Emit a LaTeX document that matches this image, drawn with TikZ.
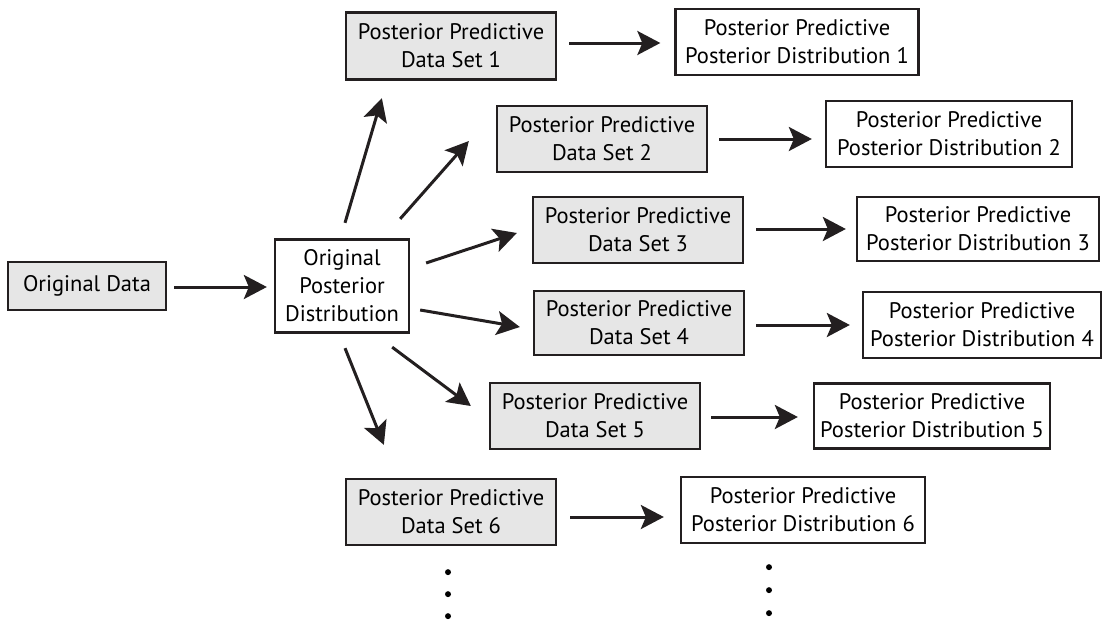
\documentclass[tikz,border=0pt]{standalone}
\usepackage{fontspec}
\setmainfont{PT Sans}
\usetikzlibrary{arrows.meta,calc}
\definecolor{ink}{HTML}{231F20}
\definecolor{boxgray}{HTML}{E6E6E6}
\tikzset{
  base/.style={draw=ink, line width=2.3pt, align=center, inner sep=0pt, text=black,
    font=\fontsize{22.5}{28}\selectfont},
  grayb/.style={base, fill=boxgray},
  whiteb/.style={base, fill=white},
  arr/.style={draw=ink, line width=3pt, -{Stealth[length=23pt, width=24pt, inset=5pt]}},
  dotc/.style={fill=black, draw=none}
}
\begin{document}
\begin{tikzpicture}[x=1pt,y=-1pt]
\useasboundingbox (0,0) rectangle (1103,621);
% nodes
\node[grayb, minimum width=158pt, minimum height=48pt] (od) at (87,286) {Original Data};
\node[whiteb, minimum width=134pt, minimum height=93pt] (opd) at (342,286) {Original\\Posterior\\Distribution};
\node[grayb, minimum width=210pt, minimum height=67pt] (ds1) at (451,46) {Posterior Predictive\\Data Set 1};
\node[whiteb, minimum width=243pt, minimum height=66pt] (ppd1) at (797,42) {Posterior Predictive\\Posterior Distribution 1};
\node[grayb, minimum width=210pt, minimum height=66pt] (ds2) at (602,139) {Posterior Predictive\\Data Set 2};
\node[whiteb, minimum width=246pt, minimum height=66pt] (ppd2) at (949,134) {Posterior Predictive\\Posterior Distribution 2};
\node[grayb, minimum width=210pt, minimum height=66pt] (ds3) at (638,230) {Posterior Predictive\\Data Set 3};
\node[whiteb, minimum width=242pt, minimum height=64pt] (ppd3) at (978,229) {Posterior Predictive\\Posterior Distribution 3};
\node[grayb, minimum width=210pt, minimum height=64pt] (ds4) at (639,323) {Posterior Predictive\\Data Set 4};
\node[whiteb, minimum width=238pt, minimum height=66pt] (ppd4) at (982,325) {Posterior Predictive\\Posterior Distribution 4};
\node[grayb, minimum width=210pt, minimum height=66pt] (ds5) at (595,416) {Posterior Predictive\\Data Set 5};
\node[whiteb, minimum width=236pt, minimum height=65pt] (ppd5) at (932,416) {Posterior Predictive\\Posterior Distribution 5};
\node[grayb, minimum width=210pt, minimum height=66pt] (ds6) at (451,512) {Posterior Predictive\\Data Set 6};
\node[whiteb, minimum width=244pt, minimum height=66pt] (ppd6) at (803,510) {Posterior Predictive\\Posterior Distribution 6};
% arrows
\draw[arr] ($(od.east)+(7,1)$) -- ($(opd.west)+(-7,1)$);
\draw[arr] ($(opd.north)+(3,-15.5)$) -- ($(ds1.south west)+(37,17.5)$);
\draw[arr] ($(opd.north east)+(-10,-19.5)$) -- ($(ds2.west)+(-27,2)$);
\draw[arr] ($(opd.east)+(16,-23)$) -- ($(ds3.west)+(-15,3)$);
\draw[arr] ($(opd.east)+(10,24)$) -- ($(ds4.west)+(-13,4)$);
\draw[arr] ($(opd.south east)+(-18,13.5)$) -- ($(ds5.west)+(-18,-10)$);
\draw[arr] ($(opd.south)+(3,14.5)$) -- ($(ds6.north west)+(39,-33)$);
\draw[arr] ($(ds1.east)+(12,-3)$) -- ($(ppd1.west)+(-14,1)$);
\draw[arr] ($(ds2.east)+(11,0)$) -- ($(ppd2.west)+(-13,5)$);
\draw[arr] ($(ds3.east)+(12,-1)$) -- ($(ppd3.west)+(-10,0)$);
\draw[arr] ($(ds4.east)+(11,2)$) -- ($(ppd4.west)+(-12,0)$);
\draw[arr] ($(ds5.east)+(10,1)$) -- ($(ppd5.west)+(-15,1)$);
\draw[arr] ($(ds6.east)+(13,5)$) -- ($(ppd6.west)+(-16,7)$);
% dots
\fill[dotc] ($(ds6.south)+(-3,26)$) circle (3);
\fill[dotc] ($(ds6.south)+(-3,48)$) circle (3);
\fill[dotc] ($(ds6.south)+(-3,70)$) circle (3);
\fill[dotc] ($(ppd6.south)+(-34,23)$) circle (3);
\fill[dotc] ($(ppd6.south)+(-34,46)$) circle (3);
\fill[dotc] ($(ppd6.south)+(-34,69)$) circle (3);
\end{tikzpicture}
\end{document}
